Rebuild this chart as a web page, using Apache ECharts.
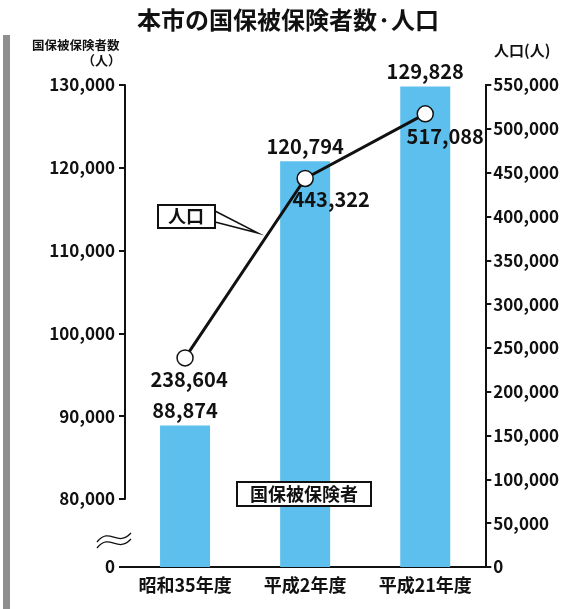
<!DOCTYPE html>
<html><head><meta charset="utf-8">
<script src="https://cdn.jsdelivr.net/npm/echarts@6/dist/echarts.min.js"></script>
<style>html,body{margin:0;padding:0;background:#fff}#c{width:562px;height:609px}</style>
</head><body><div id="c"></div>
<script>
const categories = ['昭和35年度', '平成2年度', '平成21年度'];
const insured = [88874, 120794, 129828];
const population = [238604, 443322, 517088];
const title = '本市の国保被保険者数·人口';
const leftAxisName = '国保被保険者数\n（人）';
const rightAxisName = '人口(人)';
const lineTag = '人口';
const barTag = '国保被保険者';

const FONT = '"Noto Sans CJK JP", "Liberation Sans", sans-serif';
const fmt = v => Number(v).toLocaleString('en-US');
const chart = echarts.init(document.getElementById('c'));

const popLabelCfg = [
  { position: 'bottom', distance: 3, offset: [4, 0] },
  { position: 'bottom', distance: 2, offset: [26, 0] },
  { position: 'bottom', distance: 2, offset: [20, 2] }
];

chart.setOption({
  animation: false,
  backgroundColor: '#fff',
  textStyle: { fontFamily: FONT },
  title: {
    text: title, left: 283, top: 3, textAlign: 'center',
    textStyle: { fontSize: 24, fontWeight: 'bold', color: '#111', fontFamily: FONT }
  },
  grid: { left: 125, right: 75, top: 85, bottom: 42 },
  xAxis: {
    type: 'category', data: categories,
    axisLine: { lineStyle: { color: '#111', width: 2 } },
    axisTick: { show: false },
    axisLabel: { interval: 0, hideOverlap: false, color: '#111', fontSize: 18, fontWeight: 'bold', margin: 9, fontFamily: FONT }
  },
  yAxis: [
    {
      type: 'value', min: 0, max: 130000, interval: 10000,
      breaks: [{ start: 0, end: 80000, gap: '14.1%' }],
      breakArea: { show: false },
      axisLine: { show: true, lineStyle: { color: '#111', width: 2 } },
      axisTick: { show: true, length: 6, lineStyle: { color: '#111', width: 2 } },
      splitLine: { show: false },
      axisLabel: { color: '#111', fontSize: 17, fontWeight: 'bold', margin: 10, formatter: fmt, fontFamily: FONT }
    },
    {
      type: 'value', min: 0, max: 550000, interval: 50000,
      axisLine: { show: true, lineStyle: { color: '#111', width: 2 } },
      axisTick: { show: true, length: 6, lineStyle: { color: '#111', width: 2 } },
      splitLine: { show: false },
      axisLabel: { color: '#111', fontSize: 17, fontWeight: 'bold', margin: 8, formatter: fmt, fontFamily: FONT }
    }
  ],
  series: [
    {
      type: 'bar', yAxisIndex: 0, data: insured, barWidth: 50,
      itemStyle: { color: '#5cbfee' },
      label: { show: true, position: 'top', distance: 5, color: '#111', fontSize: 20, fontWeight: 'bold', formatter: p => fmt(p.value), fontFamily: FONT },
      z: 2
    },
    {
      type: 'line', yAxisIndex: 1,
      data: population.map((v, i) => ({ value: v, label: popLabelCfg[i] })),
      lineStyle: { color: '#111', width: 3 },
      symbol: 'circle', symbolSize: 16,
      itemStyle: { color: '#fff', borderColor: '#111', borderWidth: 1.5 },
      label: { show: true, color: '#111', fontSize: 20, fontWeight: 'bold', formatter: p => fmt(p.value), fontFamily: FONT },
      z: 5
    }
  ],
  graphic: [
    { type: 'rect', shape: { x: 3, y: 35, width: 7, height: 574 }, style: { fill: '#8f8f8f' }, silent: true },
    { type: 'text', left: 32, top: 39, style: { text: '国保被保険者数', font: 'bold 12.5px ' + FONT, fill: '#111' } },
    { type: 'text', left: 82, top: 54, style: { text: '（人）', font: 'bold 13px ' + FONT, fill: '#111' } },
    { type: 'text', left: 494, top: 43, style: { text: rightAxisName, font: 'bold 15px ' + FONT, fill: '#111' } },
    // 人口 callout
    { type: 'polyline', shape: { points: [[215, 211], [258, 233], [215, 222]] }, style: { stroke: '#111', lineWidth: 1.5, fill: '#fff' }, z: 10 },
    { type: 'rect', shape: { x: 158, y: 205, width: 57, height: 23 }, style: { fill: '#fff', stroke: '#111', lineWidth: 2 }, z: 11 },
    { type: 'text', x: 186, y: 216, style: { text: lineTag, font: 'bold 18px ' + FONT, fill: '#111', align: 'center', verticalAlign: 'middle' }, z: 12 },
    // 国保被保険者 box
    { type: 'rect', shape: { x: 237, y: 482, width: 134, height: 24 }, style: { fill: '#fff', stroke: '#111', lineWidth: 2 }, z: 11 },
    { type: 'text', x: 304, y: 494, style: { text: barTag, font: 'bold 18px ' + FONT, fill: '#111', align: 'center', verticalAlign: 'middle' }, z: 12 },
    // axis break squiggle
    { type: 'bezierCurve', shape: { x1: 97, y1: 542, cpx1: 110, cpy1: 526, cpx2: 117, cpy2: 548, x2: 131, y2: 533 }, style: { stroke: '#111', lineWidth: 1.3, fill: null }, z: 12 },
    { type: 'bezierCurve', shape: { x1: 97, y1: 548, cpx1: 110, cpy1: 532, cpx2: 117, cpy2: 554, x2: 131, y2: 539 }, style: { stroke: '#111', lineWidth: 1.3, fill: null }, z: 12 }
  ]
});
</script></body></html>
